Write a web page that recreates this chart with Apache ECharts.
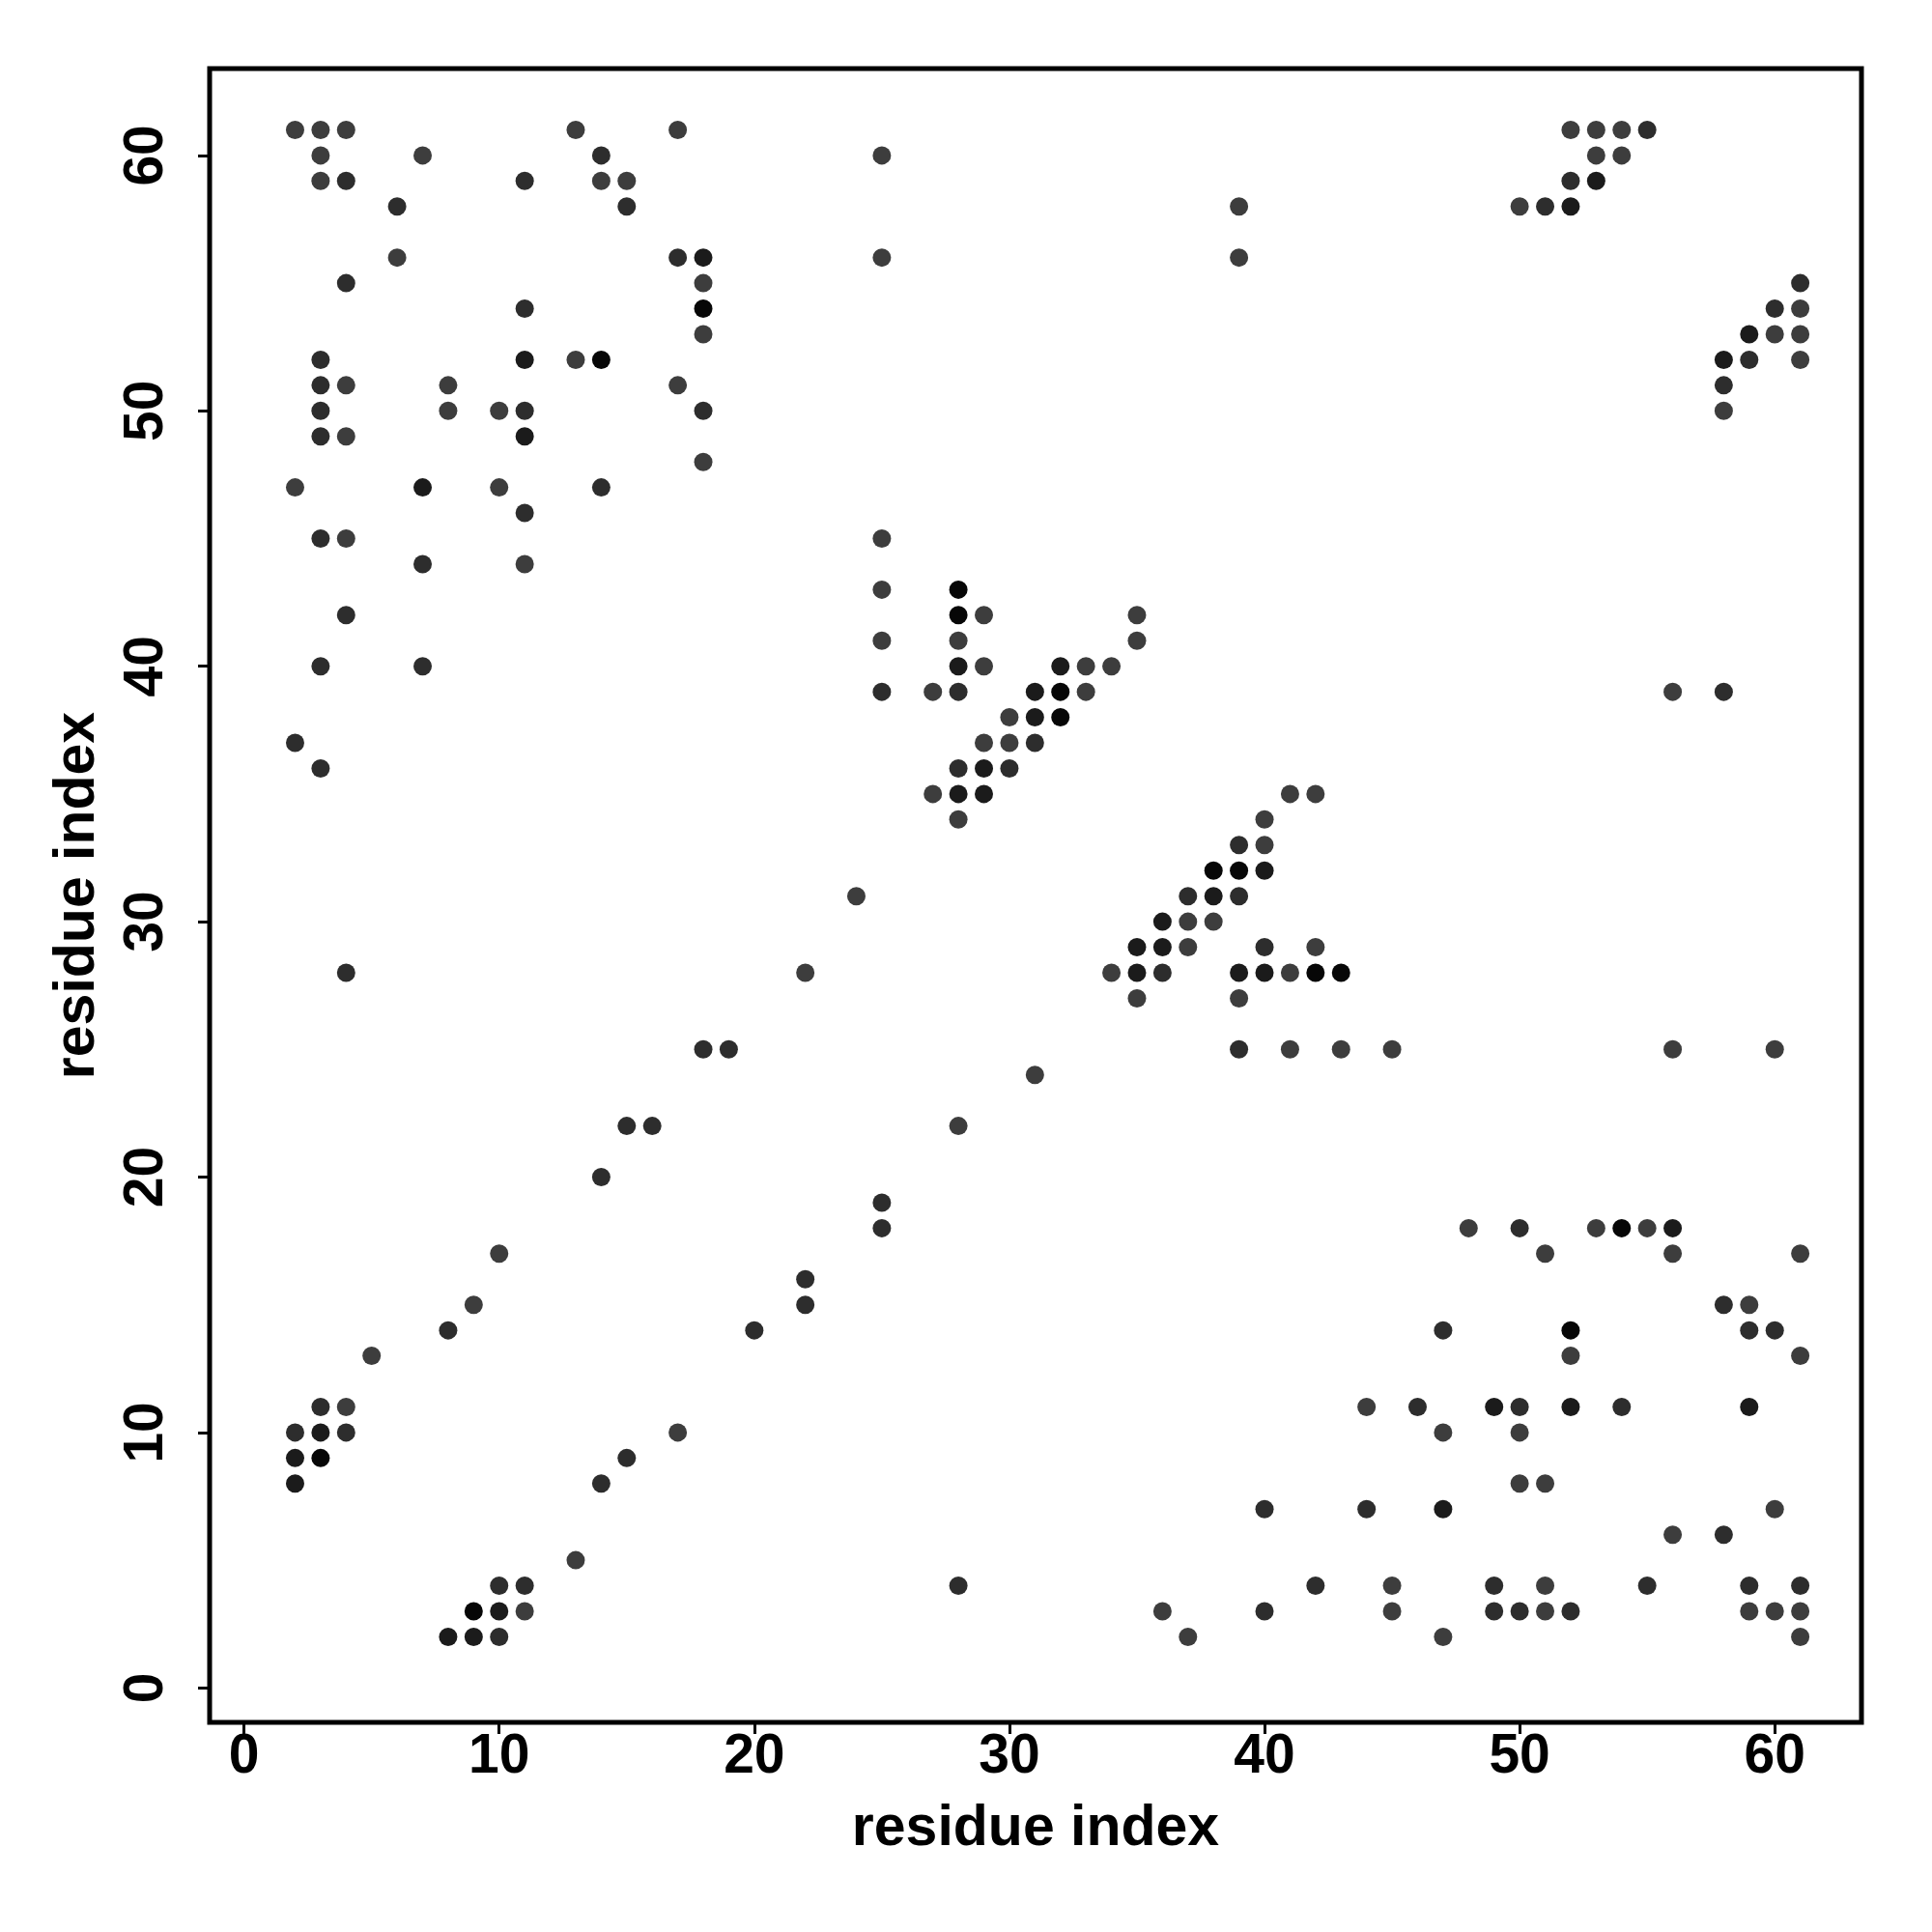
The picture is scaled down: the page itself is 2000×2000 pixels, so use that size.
<!DOCTYPE html>
<html><head><meta charset="utf-8">
<script src="https://cdn.jsdelivr.net/npm/echarts@6/dist/echarts.min.js"></script>
<style>html,body{margin:0;padding:0;background:#fff}#c{width:2000px;height:2000px}</style>
</head><body><div id="c"></div>
<script>
const tickValues = [0, 10, 20, 30, 40, 50, 60];
const xTitle = 'residue index';
const yTitle = 'residue index';

// contacts [i, j], grouped by the shade of the dot
const contactsLight = [
  [2,61],[3,61],[4,61],[13,61],[17,61],[52,61],[53,61],[54,61],
  [3,60],[7,60],[25,60],[53,60],[54,60],
  [3,59],[14,59],[15,59],
  [39,58],[50,58],
  [6,56],[25,56],[39,56],
  [18,55],
  [61,54],
  [18,53],[60,53],[61,53],
  [13,52],[61,52],
  [4,51],[8,51],[17,51],
  [8,50],[10,50],[58,50],
  [4,49],
  [18,48],
  [2,47],[10,47],
  [4,45],[25,45],
  [11,44],
  [25,43],
  [29,42],[35,42],
  [25,41],[28,41],[35,41],
  [29,40],[33,40],[34,40],
  [27,39],[33,39],[56,39],
  [30,38],
  [29,37],[30,37],
  [27,35],[41,35],[42,35],
  [28,34],[40,34],
  [40,33],
  [24,31],
  [37,30],[38,30],
  [37,29],[42,29],
  [22,28],[34,28],[41,28],
  [35,27],[39,27],
  [41,25],[43,25],[45,25],[56,25],[60,25],
  [31,24],
  [28,22],
  [48,18],[53,18],[55,18],
  [10,17],[51,17],[56,17],[61,17],
  [9,15],[59,15],
  [5,13],[52,13],[61,13],
  [4,11],[44,11],
  [17,10],[47,10],[50,10],
  [50,8],[51,8],
  [60,7],
  [56,6],
  [13,5],
  [45,4],[51,4],
  [11,3],[36,3],[45,3],[51,3],[59,3],[60,3],[61,3],
  [37,2],[47,2],[61,2]
];
const contactsMedium = [
  [55,61],
  [14,60],
  [4,59],[11,59],[52,59],
  [6,58],[15,58],[51,58],
  [17,56],
  [4,55],[61,55],
  [11,54],[60,54],
  [3,52],[59,52],
  [3,51],[58,51],
  [3,50],[11,50],[18,50],
  [3,49],
  [14,47],
  [11,46],
  [3,45],
  [7,44],
  [4,42],
  [3,40],[7,40],
  [25,39],[28,39],[58,39],
  [2,37],[31,37],
  [3,36],[28,36],[30,36],
  [39,33],
  [37,31],[39,31],
  [40,29],
  [4,28],[36,28],
  [18,25],[19,25],[39,25],
  [15,22],[16,22],
  [14,20],
  [25,19],
  [25,18],[50,18],
  [22,16],
  [22,15],[58,15],
  [8,14],[20,14],[47,14],[59,14],[60,14],
  [3,11],[46,11],[50,11],[54,11],
  [2,10],[4,10],
  [15,9],
  [14,8],
  [40,7],[44,7],
  [58,6],
  [10,4],[11,4],[28,4],[42,4],[49,4],[55,4],[59,4],[61,4],
  [40,3],[49,3],[50,3],[52,3],
  [10,2]
];
const contactsDark = [
  [53,59],
  [52,58],
  [18,56],
  [59,53],
  [11,52],[58,52],
  [11,49],
  [7,47],
  [28,40],[32,40],
  [31,39],
  [31,38],
  [29,36],
  [28,35],[29,35],
  [40,32],
  [38,31],
  [36,30],
  [35,29],[36,29],
  [35,28],[39,28],[40,28],
  [56,18],
  [49,11],[52,11],[59,11],
  [3,10],
  [2,9],
  [2,8],
  [47,7],
  [10,3],
  [8,2],[9,2]
];
const contactsBlack = [
  [18,54],
  [14,52],
  [28,43],
  [28,42],
  [32,39],
  [32,38],
  [38,32],[39,32],
  [42,28],[43,28],
  [54,18],
  [52,14],
  [3,9],
  [9,3]
];

const shadeGroups = [
  { data: contactsLight, color: '#3d3d3d' },
  { data: contactsMedium, color: '#2d2d2d' },
  { data: contactsDark, color: '#1b1b1b' },
  { data: contactsBlack, color: '#070707' }
];

const font = 'Liberation Sans, Arial, Helvetica, sans-serif';
function axis(isY) {
  return {
    type: 'value',
    min: -1.35,
    max: 63.4,
    name: isY ? yTitle : xTitle,
    nameLocation: 'middle',
    nameGap: isY ? 107 : 81,
    nameRotate: isY ? 90 : 0,
    nameTextStyle: { fontSize: 59, fontWeight: 'bold', fontFamily: font, color: '#000' },
    axisLine: { show: false, onZero: false },
    splitLine: { show: false },
    axisTick: { show: true, length: 12, lineStyle: { color: '#000', width: 3 }, customValues: tickValues },
    axisLabel: {
      customValues: tickValues,
      fontSize: 57, fontWeight: 'bold', fontFamily: font, color: '#000',
      margin: isY ? 36 : 8,
      rotate: isY ? 90 : 0
    }
  };
}

const chart = echarts.init(document.getElementById('c'), null, { renderer: 'canvas' });
chart.setOption({
  animation: false,
  backgroundColor: '#fff',
  grid: { left: 217, right: 73, top: 71, bottom: 217, show: true, borderColor: '#000', borderWidth: 5, backgroundColor: 'transparent' },
  xAxis: axis(false),
  yAxis: axis(true),
  series: shadeGroups.map(g => ({
    type: 'scatter',
    symbol: 'circle',
    symbolSize: 19,
    data: g.data,
    itemStyle: { color: g.color, opacity: 1 },
    silent: true
  }))
});
</script>
</body></html>
